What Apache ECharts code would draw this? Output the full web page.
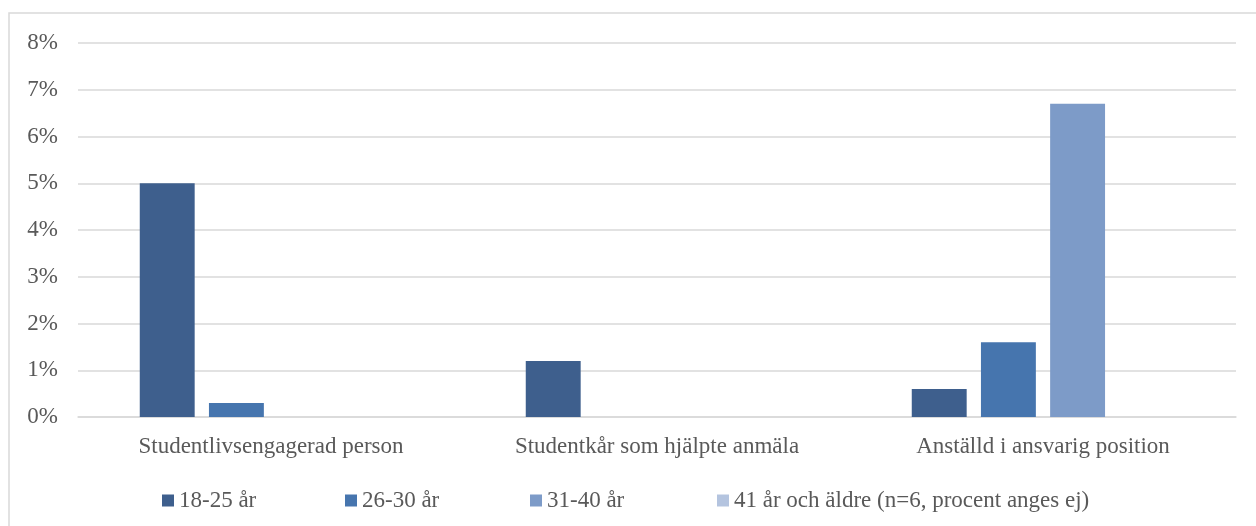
<!DOCTYPE html>
<html>
<head>
<meta charset="utf-8">
<script src="https://cdn.jsdelivr.net/npm/echarts@6/dist/echarts.min.js"></script>
<style>html,body{margin:0;padding:0;background:#fff;}#c{width:1256px;height:526px;}</style>
</head>
<body>
<div id="c"></div>
<script>
const categories = ['Studentlivsengagerad person', 'Studentkår som hjälpte anmäla', 'Anställd i ansvarig position'];
const seriesNames = ['18-25 år', '26-30 år', '31-40 år', '41 år och äldre (n=6, procent anges ej)'];
const s1825 = [5.0, 1.2, 0.6];
const s2630 = [0.3, null, 1.6];
const s3140 = [null, null, 6.7];
const s41 = [null, null, null];
const colors = ['#3E5F8D', '#4675AE', '#7D9BC8', '#B4C4DF'];
const yTicks = [0, 1, 2, 3, 4, 5, 6, 7, 8];

const FONT = "'Liberation Serif', 'Times New Roman', serif";
const TXT = '#595959';
const seriesData = [s1825, s2630, s3140, s41];
const legendLeft = [162, 345, 530, 717];

const chart = echarts.init(document.getElementById('c'), null, {renderer: 'canvas'});
chart.setOption({
  animation: false,
  backgroundColor: '#fff',
  graphic: [{
    type: 'rect', silent: true, z: -1,
    shape: {x: 9, y: 13, width: 1400, height: 700},
    style: {fill: 'none', stroke: '#d9d9d9', lineWidth: 1.5}
  }],
  grid: {left: 78, right: 20, top: 43, bottom: 109, containLabel: false},
  legend: seriesNames.map((n, i) => ({
    data: [n], left: legendLeft[i], top: 489, padding: 0,
    itemWidth: 12, itemHeight: 12, icon: 'rect', selectedMode: false,
    textStyle: {color: TXT, fontFamily: FONT, fontSize: 23}
  })),
  xAxis: {
    type: 'category', data: categories,
    axisLine: {lineStyle: {color: '#d9d9d9', width: 1.5}},
    axisTick: {show: false},
    axisLabel: {color: TXT, fontFamily: FONT, fontSize: 23, margin: 18}
  },
  yAxis: {
    type: 'value', min: yTicks[0], max: yTicks[yTicks.length - 1], interval: 1,
    axisLine: {show: false}, axisTick: {show: false},
    axisLabel: {color: TXT, fontFamily: FONT, fontSize: 23, margin: 20, formatter: '{value}%'},
    splitLine: {lineStyle: {color: '#d9d9d9', width: 1.5}}
  },
  series: seriesNames.map((n, i) => ({
    name: n, type: 'bar', data: seriesData[i],
    barGap: '26%', barCategoryGap: '32%',
    itemStyle: {color: colors[i]}
  }))
});
</script>
</body>
</html>
